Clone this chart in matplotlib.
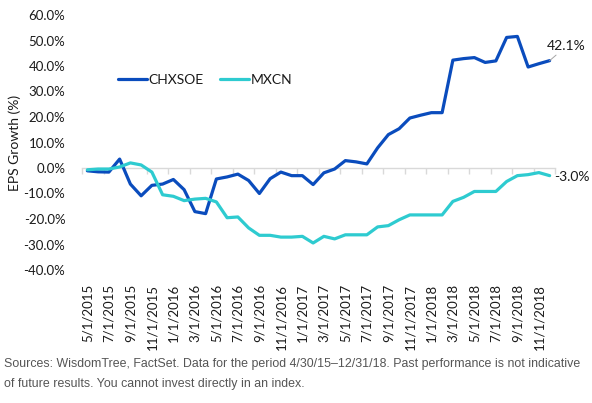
import matplotlib.pyplot as plt

plt.rcParams['font.family'] = ['Lato', 'DejaVu Sans']

# monthly points, 5/1/2015 .. 12/1/2018
dates = ['5/1/2015', '6/1/2015', '7/1/2015', '8/1/2015', '9/1/2015', '10/1/2015',
         '11/1/2015', '12/1/2015', '1/1/2016', '2/1/2016', '3/1/2016', '4/1/2016',
         '5/1/2016', '6/1/2016', '7/1/2016', '8/1/2016', '9/1/2016', '10/1/2016',
         '11/1/2016', '12/1/2016', '1/1/2017', '2/1/2017', '3/1/2017', '4/1/2017',
         '5/1/2017', '6/1/2017', '7/1/2017', '8/1/2017', '9/1/2017', '10/1/2017',
         '11/1/2017', '12/1/2017', '1/1/2018', '2/1/2018', '3/1/2018', '4/1/2018',
         '5/1/2018', '6/1/2018', '7/1/2018', '8/1/2018', '9/1/2018', '10/1/2018',
         '11/1/2018', '12/1/2018']
chxsoe = [-1.1, -1.5, -1.6, 3.5, -6.3, -10.9, -6.8, -6.3, -4.5, -8.5, -17.1, -17.9,
          -4.3, -3.5, -2.4, -4.9, -10.0, -4.2, -1.6, -3.0, -3.0, -6.5, -1.9, -0.4,
          2.9, 2.4, 1.6, 7.9, 13.1, 15.4, 19.6, 20.7, 21.7, 21.7, 42.3, 42.9,
          43.3, 41.4, 42.0, 51.2, 51.6, 39.6, 40.9, 42.1]
mxcn = [-0.7, -0.4, -0.4, 0.4, 2.0, 1.2, -1.6, -10.5, -11.1, -12.8, -12.2, -11.9,
        -13.3, -19.5, -19.2, -23.5, -26.4, -26.4, -27.1, -27.1, -26.8, -29.4, -26.8, -27.8,
        -26.2, -26.2, -26.2, -23.1, -22.6, -20.3, -18.4, -18.4, -18.4, -18.4, -13.1, -11.5,
        -9.2, -9.2, -9.2, -5.3, -3.0, -2.6, -1.8, -3.0]
yticks = [-40, -30, -20, -10, 0, 10, 20, 30, 40, 50, 60]

blue = '#0a4cbd'
teal = '#2ecbd0'
txt = '#1a1a1a'

fig = plt.figure(figsize=(5.92, 4.03), dpi=100)
ax = fig.add_axes([82 / 592, 1 - 270 / 403, 473 / 592, 255 / 403])

x = list(range(len(dates)))
ax.plot(x, chxsoe, color=blue, lw=2.3, label='CHXSOE', solid_capstyle='round')
ax.plot(x, mxcn, color=teal, lw=2.3, label='MXCN', solid_capstyle='round')

ax.set_xlim(-0.5, len(dates) - 0.5)
ax.set_ylim(-40, 60)
ax.set_yticks(yticks)
ax.set_yticklabels([f'{v:.1f}%' for v in yticks])
ax.tick_params(axis='y', length=0, pad=12, labelsize=9.5, labelcolor=txt)

# date labels at the bottom, every other month
ax.set_xticks(x[::2])
ax.set_xticklabels(dates[::2], rotation=90, fontsize=9.5, color=txt)
ax.tick_params(axis='x', length=0, pad=10)
for s in ax.spines.values():
    s.set_visible(False)

# horizontal axis line at zero with tick marks between months
zax = ax.secondary_xaxis(0.4)
zax.spines['bottom'].set_color('#d9d9d9')
zax.spines['bottom'].set_linewidth(1)
zax.set_xticks([i - 0.5 for i in range(0, len(dates) + 1, 2)])
zax.set_xticklabels([])
zax.tick_params(axis='x', length=4, width=1, color='#d9d9d9', direction='out')

ax.set_ylabel('EPS Growth (%)', fontsize=10, color=txt)
ax.yaxis.set_label_coords(-0.128, 0.5)

# end-point labels
last = len(dates) - 1
ax.annotate(f'{chxsoe[-1]:.1f}%', xy=(last, chxsoe[-1]), xytext=(12, 6),
            textcoords='offset points', fontsize=10, color=txt, ha='center', va='bottom',
            arrowprops=dict(arrowstyle='-', color='#a6a6a6', lw=0.7, shrinkA=0, shrinkB=0))
ax.annotate(f'{mxcn[-1]:.1f}%', xy=(last, mxcn[-1]), xytext=(3, -1),
            textcoords='offset points', fontsize=10, color=txt, ha='left', va='center')

leg = ax.legend(loc='center left', bbox_to_anchor=(0.076, 0.745), ncol=2, frameon=False,
                fontsize=10, handlelength=2.1, handletextpad=0.1, columnspacing=1.2,
                borderpad=0, borderaxespad=0)
for t in leg.get_texts():
    t.set_color(txt)

foot = dict(fontsize=8.9, color='#555555', family=['Liberation Sans', 'DejaVu Sans'], va='center')
fig.text(4 / 592, 1 - 364 / 403,
         'Sources: WisdomTree, FactSet. Data for the period 4/30/15\u201312/31/18. Past performance is not indicative',
         **foot)
fig.text(4 / 592, 1 - 384 / 403,
         'of future results. You cannot invest directly in an index.', **foot)

fig.savefig('out.png', dpi=100)
